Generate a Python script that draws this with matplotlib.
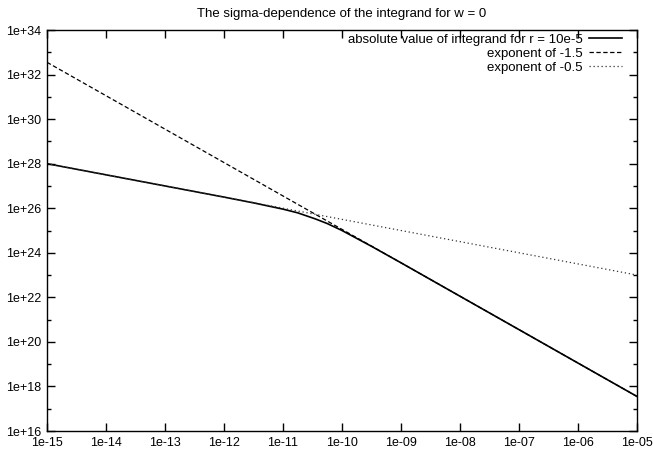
import numpy as np
import matplotlib
matplotlib.use("Agg")
import matplotlib.pyplot as plt
from matplotlib.ticker import FixedLocator, FuncFormatter, NullLocator, NullFormatter

plt.rcParams['font.family'] = ['Liberation Sans', 'DejaVu Sans']

# absolute value of the integrand vs sigma (r = 10e-5)
sigma = [1e-15, 1e-14, 1e-13, 1e-12, 10**-11.5, 1e-11, 10**-10.75,
         10**-10.45, 10**-10.25, 1e-10, 10**-9.5, 1e-9, 1e-8, 1e-7, 1e-6, 1e-5]
integrand = [1.0e28, 3.16e27, 1.0e27, 3.16e26, 1.74e26, 9.1e25, 6.2e25,
             3.3e25, 2.05e25, 1.0e25, 1.95e24, 3.55e23, 1.12e22, 3.55e20,
             1.12e19, 3.55e17]

# reference power laws, given by their end points
slope15_x = [1e-15, 1e-5]
slope15_y = [3.55e32, 3.55e17]
slope05_x = [1e-15, 1e-5]
slope05_y = [1.0e28, 1.0e23]

xticks = [10.0**k for k in range(-15, -4)]
yticks = [10.0**k for k in range(16, 35, 2)]
yminor = [10.0**k for k in range(17, 34, 2)]

fig = plt.figure(figsize=(6.53, 4.58), dpi=100)
ax = fig.add_axes([47 / 653, 27 / 458, 590 / 653, 401 / 458])

ax.plot(sigma, integrand, color='black', lw=1.2,
        label='absolute value of integrand for r = 10e-5')
ax.plot(slope15_x, slope15_y, color='black', lw=0.9, dashes=(3.5, 2),
        label='exponent of -1.5')
ax.plot(slope05_x, slope05_y, color='#333333', lw=0.9, dashes=(1, 2.2),
        label='exponent of -0.5')

ax.set_xscale('log')
ax.set_yscale('log')
ax.set_xlim(1e-15, 1e-5)
ax.set_ylim(1e16, 1e34)

fmt = FuncFormatter(lambda v, pos: f"{v:.0e}")
ax.xaxis.set_major_locator(FixedLocator(xticks))
ax.xaxis.set_minor_locator(NullLocator())
ax.yaxis.set_major_locator(FixedLocator(yticks))
ax.yaxis.set_minor_locator(FixedLocator(yminor))
ax.xaxis.set_major_formatter(fmt)
ax.yaxis.set_major_formatter(fmt)
ax.yaxis.set_minor_formatter(NullFormatter())

ax.tick_params(which='both', direction='in', top=True, right=True,
               labelsize=9, width=1)
ax.tick_params(which='major', length=6, pad=4)
ax.tick_params(which='minor', length=3)
for s in ax.spines.values():
    s.set_linewidth(1)

ax.set_title('The sigma-dependence of the integrand for w = 0', fontsize=9.5, pad=9)

ax.legend(loc='upper right', bbox_to_anchor=(1 - 14 / 590, 1 - 2 / 401),
          frameon=False, markerfirst=False, fontsize=9.5,
          handlelength=2.5, handletextpad=0.45, labelspacing=0.15,
          borderpad=0.1, borderaxespad=0)

fig.savefig('out.png', dpi=100)
